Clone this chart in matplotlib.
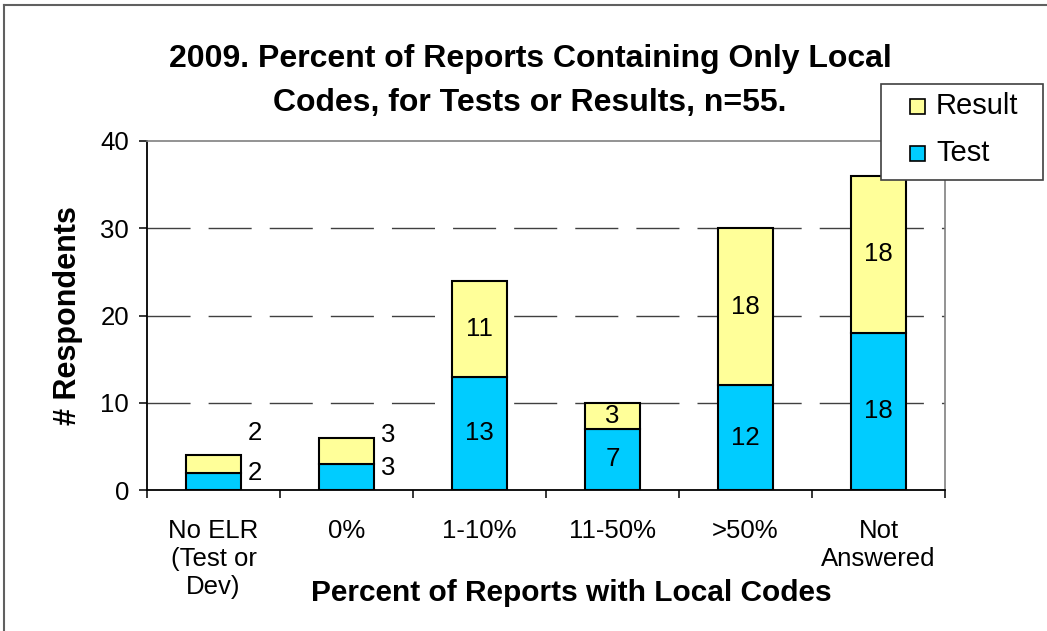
import matplotlib
matplotlib.use("Agg")
import matplotlib.pyplot as plt
from matplotlib.patches import Rectangle
from matplotlib.lines import Line2D

# Survey data: respondents by share of reports using only local codes
categories = ["No ELR\n(Test or\nDev)", "0%", "1-10%", "11-50%", ">50%", "Not\nAnswered"]
test_counts = [2, 3, 13, 7, 12, 18]
result_counts = [2, 3, 11, 3, 18, 18]
series_names = ["Result", "Test"]
y_ticks = [0, 10, 20, 30, 40]

TEST_COLOR = "#00CCFF"
RESULT_COLOR = "#FFFF99"
FONT = "Liberation Sans"

plt.rcParams["font.family"] = [FONT, "DejaVu Sans"]

W, H = 1047, 631
fig = plt.figure(figsize=(W / 100, H / 100), dpi=100)
fig.patch.set_facecolor("white")


def fx(px):
    return px / W


def fy(py):
    return 1 - py / H


ax = fig.add_axes([fx(147), fy(490), (945 - 147) / W, (490 - 141) / H])

x = list(range(len(categories)))
bar_w = 0.41
ax.bar(x, test_counts, width=bar_w, color=TEST_COLOR, edgecolor="black",
       linewidth=1.5, zorder=3)
ax.bar(x, result_counts, width=bar_w, bottom=test_counts, color=RESULT_COLOR,
       edgecolor="black", linewidth=1.5, zorder=3)

ax.set_xlim(-0.5, len(categories) - 0.5)
ax.set_ylim(0, 40)

# dashed horizontal gridlines
for v in y_ticks[1:-1]:
    ax.axhline(v, color="#404040", linewidth=1.0, dashes=(31, 13), zorder=1)

# spines
for s in ("left", "bottom"):
    ax.spines[s].set_color("black")
    ax.spines[s].set_linewidth(1.3)
for s in ("top", "right"):
    ax.spines[s].set_color("#808080")
    ax.spines[s].set_linewidth(1.2)

# y axis ticks
ax.set_yticks(y_ticks)
ax.tick_params(axis="y", direction="out", length=6, width=1.1, color="black",
               labelsize=18.5, pad=7)

# x axis: tick marks between categories, labels at category centres
ax.set_xticks([i - 0.5 for i in range(len(categories) + 1)])
ax.set_xticklabels([])
ax.tick_params(axis="x", which="major", direction="out", length=6, width=1.1,
               color="black")
ax.set_xticks(x, minor=True)
ax.set_xticklabels(categories, minor=True, fontsize=18.5, linespacing=1.2)
ax.tick_params(axis="x", which="minor", length=0, pad=21)

# value labels
label_kw = dict(fontsize=18.5, color="black", zorder=4)
outside_offsets = {0: (0, 22), 1: (-4, 3)}  # (lower, upper) vertical offsets in px
for i, (t, r) in enumerate(zip(test_counts, result_counts)):
    if i in outside_offsets:
        lo, up = outside_offsets[i]
        xr = i + bar_w / 2
        ax.annotate(str(t), (xr, t), xytext=(5, lo * 0.72), textcoords="offset points",
                    ha="left", va="center", **label_kw)
        ax.annotate(str(r), (xr, t + r), xytext=(5, up * 0.72), textcoords="offset points",
                    ha="left", va="center", **label_kw)
    else:
        ax.text(i, t / 2, str(t), ha="center", va="center", **label_kw)
        ax.text(i, t + r / 2, str(r), ha="center", va="center", **label_kw)

# axis titles
ax.set_ylabel("# Respondents", fontsize=22, fontweight="bold")
ax.yaxis.set_label_coords((83 - 147) / 798, 0.5)
ax.set_xlabel("Percent of Reports with Local Codes", fontsize=21.5,
              fontweight="bold", va="center")
ax.xaxis.set_label_coords((571 - 147) / 798, (490 - 593) / 349)

# chart title
fig.text(fx(530), fy(81),
         "2009. Percent of Reports Containing Only Local\nCodes, for Tests or Results, n=55.",
         ha="center", va="center", fontsize=23, fontweight="bold", linespacing=1.6)

# legend box drawn in figure pixels
fig.add_artist(Rectangle((fx(881), fy(180)), (1043 - 881) / W, (180 - 84) / H,
                         transform=fig.transFigure, facecolor="white",
                         edgecolor="#404040", linewidth=1.2, zorder=10))
for name, color, row_y in zip(series_names, [RESULT_COLOR, TEST_COLOR], [106, 153]):
    fig.add_artist(Rectangle((fx(910), fy(row_y + 7.5)), 15 / W, 15 / H,
                             transform=fig.transFigure, facecolor=color,
                             edgecolor="black", linewidth=1.2, zorder=11))
    fig.text(fx(936), fy(row_y), name, ha="left", va="center", fontsize=21,
             zorder=11)

# outer chart border (top and left edges)
fig.add_artist(Line2D([fx(4), fx(4)], [0, fy(5)], transform=fig.transFigure,
                      color="#606060", linewidth=1.5))
fig.add_artist(Line2D([fx(4), 1], [fy(5), fy(5)], transform=fig.transFigure,
                      color="#606060", linewidth=1.5))

fig.savefig("out.png", dpi=100, facecolor="white")
